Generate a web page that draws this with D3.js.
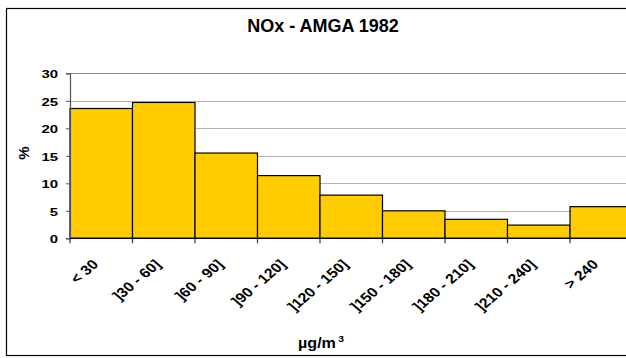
<!DOCTYPE html>
<html>
<head>
<meta charset="utf-8">
<script src="https://cdn.jsdelivr.net/npm/d3@7"></script>
<style>
  html, body { margin: 0; padding: 0; background: #fff; }
  svg { display: block; font-family: "Liberation Sans", Arial, sans-serif; }
</style>
</head>
<body>
<svg id="chart" width="626" height="358"></svg>
<script>
const categories = ["< 30", "]30 - 60]", "]60 - 90]", "]90 - 120]", "]120 - 150]", "]150 - 180]", "]180 - 210]", "]210 - 240]", "> 240"];
const values = [23.6, 24.7, 15.5, 11.4, 7.85, 5.0, 3.45, 2.4, 5.75];
const yTicks = [0, 5, 10, 15, 20, 25, 30];
const title = "NOx - AMGA 1982";
const yTitle = "%";
const xTitle = "µg/m";
const xTitleSup = "3";

const svg = d3.select("#chart");
const plot = { left: 70, right: 632.5, top: 73.3, bottom: 238.3 };

const x = d3.scaleBand().domain(categories).range([plot.left, plot.right]).paddingInner(0).paddingOuter(0);
const y = d3.scaleLinear().domain([0, 30]).range([plot.bottom, plot.top]);

// outer chart border
svg.append("rect")
  .attr("x", 6.5).attr("y", 8.5)
  .attr("width", 660).attr("height", 347)
  .attr("fill", "#fff").attr("stroke", "#000").attr("stroke-width", 1.2);

// title
svg.append("text")
  .attr("x", 323).attr("y", 32)
  .attr("text-anchor", "middle")
  .attr("font-size", 18).attr("font-weight", "bold")
  .text(title);

// gridlines
svg.append("g")
  .selectAll("line")
  .data(yTicks.filter(d => d > 0))
  .join("line")
  .attr("x1", plot.left).attr("x2", 640)
  .attr("y1", d => Math.round(y(d)) + 0.5).attr("y2", d => Math.round(y(d)) + 0.5)
  .attr("stroke", d => d === 30 ? "#8c8c8c" : "#b4b4b4").attr("stroke-width", 1);

// bars
svg.append("g")
  .selectAll("rect")
  .data(values)
  .join("rect")
  .attr("x", (d, i) => x(categories[i]))
  .attr("y", d => y(d))
  .attr("width", x.bandwidth())
  .attr("height", d => y(0) - y(d))
  .attr("fill", "#FFCC00")
  .attr("stroke", "#000")
  .attr("stroke-width", 1.2);

// y axis
const yAxis = d3.axisLeft(y).tickValues(yTicks).tickSize(4).tickFormat(d3.format("d"));
const gy = svg.append("g").attr("transform", `translate(${plot.left},0)`).call(yAxis);
gy.select(".domain").attr("stroke", "#555").attr("stroke-width", 1.2);
gy.selectAll(".tick line").attr("stroke", "#555");
gy.selectAll(".tick text")
  .attr("x", null).attr("dy", null)
  .attr("font-family", "'Liberation Sans', Arial, sans-serif")
  .attr("font-size", 11.5).attr("font-weight", "bold").attr("fill", "#000")
  .attr("text-anchor", "end")
  .attr("transform", "translate(-12,4.6) scale(1.3,1)");

// x axis
const gx = svg.append("g").attr("transform", `translate(0,${plot.bottom})`);
gx.append("line")
  .attr("x1", plot.left).attr("x2", 640)
  .attr("y1", 0).attr("y2", 0)
  .attr("stroke", "#000").attr("stroke-width", 1.2);
const boundaries = categories.map(c => x(c)).concat([x(categories[categories.length - 1]) + x.bandwidth()]);
gx.selectAll("line.tk")
  .data(boundaries)
  .join("line")
  .attr("class", "tk")
  .attr("x1", d => d).attr("x2", d => d)
  .attr("y1", 0).attr("y2", 5)
  .attr("stroke", "#333").attr("stroke-width", 1.2);
gx.selectAll("text.lbl")
  .data(categories)
  .join("text")
  .attr("class", "lbl")
  .attr("text-anchor", "end")
  .attr("font-size", 13.5).attr("font-weight", "bold")
  .attr("transform", d => `translate(${x(d) + x.bandwidth() / 2 - 2},${27}) scale(1.18,1) rotate(-45)`)
  .text(d => d);

// y title
svg.append("text")
  .attr("transform", "translate(29,153) rotate(-90)")
  .attr("text-anchor", "middle")
  .attr("font-size", 15).attr("font-weight", "bold")
  .text(yTitle);

// x title
const xt = svg.append("text")
  .attr("text-anchor", "middle")
  .attr("font-weight", "bold")
  .attr("transform", "translate(321,348) scale(1.15,1)");
xt.append("tspan").attr("font-size", 14).text(xTitle);
xt.append("tspan").attr("font-size", 9).attr("dy", -6).attr("dx", 2).text(xTitleSup);
</script>
</body>
</html>
